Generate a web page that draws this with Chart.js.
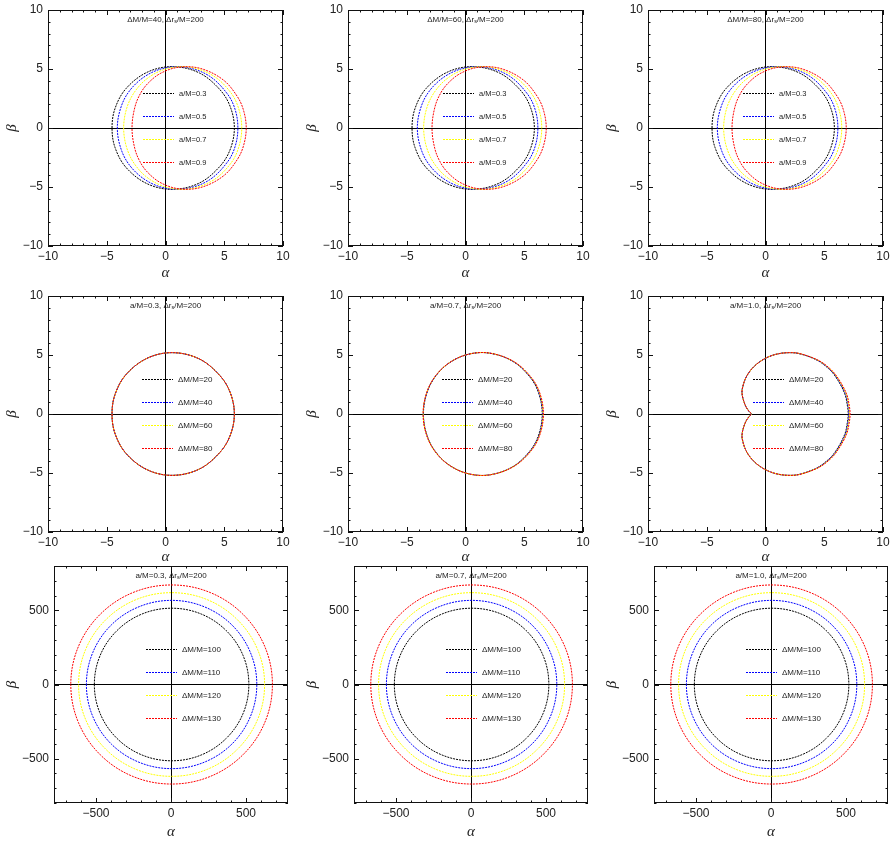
<!DOCTYPE html>
<html>
<head>
<meta charset="utf-8">
<script src="https://cdn.jsdelivr.net/npm/chart.js@4.4.1/dist/chart.umd.min.js"></script>
<style>
html,body{margin:0;padding:0;background:#fff;}
#wrap{position:relative;width:896px;height:842px;overflow:hidden;background:#fff;}
</style>
</head>
<body>
<div id="wrap"></div>
<script>
// series colours, in legend order
const colors = ['#000000', '#0000ff', '#ffff00', '#ff0000'];

// legend texts
const spinNames = ['a/M=0.3', 'a/M=0.5', 'a/M=0.7', 'a/M=0.9'];
const dmNamesSmall = ['\u0394M/M=20', '\u0394M/M=40', '\u0394M/M=60', '\u0394M/M=80'];
const dmNamesLarge = ['\u0394M/M=100', '\u0394M/M=110', '\u0394M/M=120', '\u0394M/M=130'];

// panel titles (text before subscript s)
const topTitles = ['\u0394M/M=40, \u0394r', '\u0394M/M=60, \u0394r', '\u0394M/M=80, \u0394r'];
const spinTitles = ['a/M=0.3, \u0394r', 'a/M=0.7, \u0394r', 'a/M=1.0, \u0394r'];

// tick labels
const smallTicks = [-10, -5, 0, 5, 10];
const bigTicks = [-500, 0, 500];

// shadow contours, upper half read left to right (lower half is the mirror)
// top row, dM/M = 40..80 look the same
const alphaA03 = [-4.55, -4.30, -3.37, -1.57, 0.60, 2.89, 4.64, 5.52, 5.86];
const betaA03  = [0, 1.64, 3.33, 4.72, 5.20, 4.66, 3.24, 1.78, 0];
const alphaA05 = [-4.10, -3.72, -2.85, -1.48, 0.14, 1.89, 3.78, 5.28, 5.93, 6.16];
const betaA05  = [0, 1.96, 3.41, 4.54, 5.12, 5.12, 4.37, 2.87, 1.55, 0];
const alphaA07 = [-3.56, -3.27, -2.52, -1.34, 0.23, 2.02, 4.04, 5.51, 6.21, 6.49];
const betaA07  = [0, 1.77, 3.21, 4.35, 5.06, 5.16, 4.44, 3.06, 1.70, 0];
const alphaA09 = [-2.85, -2.61, -2.13, -1.47, -0.39, 1.14, 3.00, 4.92, 6.13, 6.66, 6.87];
const betaA09  = [0, 1.75, 2.93, 3.81, 4.65, 5.15, 5.04, 4.07, 2.64, 1.43, 0];

// middle row, a/M = 0.7, dM/M = 20, 40, 60, 80 (beta from betaA07)
const alpha07dm20 = [-3.58, -3.29, -2.54, -1.35, 0.23, 2.03, 4.06, 5.54, 6.25, 6.53];
const alpha07dm40 = [-3.59, -3.30, -2.55, -1.36, 0.23, 2.04, 4.08, 5.57, 6.29, 6.57];
const alpha07dm60 = [-3.60, -3.31, -2.56, -1.36, 0.23, 2.05, 4.10, 5.60, 6.32, 6.60];
const alpha07dm80 = [-3.61, -3.32, -2.57, -1.37, 0.24, 2.06, 4.12, 5.63, 6.35, 6.63];

// middle row, a/M = 1.0, starts at the cusp on the left
const betaA10 = [0, 0.22, 0.65, 1.25, 1.80, 2.20, 2.90, 3.47, 4.00, 4.46, 4.84, 5.10, 5.20, 5.12, 4.63, 4.13, 3.31, 1.76, 0.64, 0];
const alpha10dm20 = [-1.17, -1.40, -1.68, -1.90, -2.00, -1.96, -1.75, -1.44, -1.00, -0.44, 0.25, 1.06, 2.00, 2.84, 4.25, 5.03, 5.86, 6.73, 6.98, 7.04];
const alpha10dm40 = [-1.17, -1.40, -1.68, -1.90, -2.00, -1.96, -1.75, -1.44, -1.00, -0.44, 0.25, 1.07, 2.02, 2.87, 4.28, 5.07, 5.90, 6.78, 7.03, 7.09];
const alpha10dm60 = [-1.17, -1.40, -1.68, -1.90, -2.00, -1.96, -1.75, -1.44, -1.00, -0.44, 0.25, 1.08, 2.04, 2.90, 4.31, 5.11, 5.94, 6.83, 7.08, 7.14];
const alpha10dm80 = [-1.17, -1.40, -1.68, -1.90, -2.00, -1.96, -1.75, -1.44, -1.00, -0.44, 0.25, 1.09, 2.06, 2.93, 4.34, 5.15, 5.98, 6.88, 7.14, 7.20];

// bottom row, dM/M = 100..130 (same in all three panels)
const alpha100 = [-511, -472, -360, -193, 4, 201, 368, 480, 519];
const beta100  = [0, 197, 364, 476, 515, 476, 364, 197, 0];
const alpha110 = [-564, -521, -398, -213, 4, 221, 406, 529, 572];
const beta110  = [0, 217, 402, 525, 568, 525, 402, 217, 0];
const alpha120 = [-616, -569, -434, -233, 4, 241, 442, 577, 624];
const beta120  = [0, 237, 438, 573, 620, 573, 438, 237, 0];
const alpha130 = [-668, -617, -471, -253, 4, 261, 479, 625, 676];
const beta130  = [0, 257, 475, 621, 672, 621, 475, 257, 0];

// axis ranges
const smallRange = [-10, 10];
const bigRangeX = [-780, 780];
const bigRangeY = [-800, 800];

// ---- layout ----
const rowGeom = [
  {top: 0,   h: 282, padTop: 10, xH: 36, yW: 48, padR: 17, alphaPad: 0},
  {top: 282, h: 284, padTop: 14, xH: 34, yW: 48, padR: 17, alphaPad: 0},
  {top: 560, h: 282, padTop: 6,  xH: 39, yW: 54, padR: 12, alphaPad: 1}
];
const legendRows = [83, 106, 129, 152];
const dash = [2, 1];
const sansFont = "'Liberation Sans', Arial, Helvetica, sans-serif";
const serifFont = "'Liberation Serif', 'DejaVu Serif', serif";

Chart.defaults.font.family = sansFont;

// open path: upper half then lower half back (used for the cusped a=1 shadow)
function openPath(alpha, beta){
  let pts = alpha.map((a, i) => ({x: a, y: beta[i]}));
  for (let i = alpha.length - 2; i >= 0; i--) pts.push({x: alpha[i], y: -beta[i]});
  return pts;
}

// closed smooth loop: one extra point at each end, those end segments are hidden
function loopPath(alpha, beta){
  let L = alpha.map((a, i) => ({x: a, y: beta[i]}));
  for (let i = alpha.length - 2; i >= 1; i--) L.push({x: alpha[i], y: -beta[i]});
  return [L[L.length - 1]].concat(L, [L[0], L[1]]);
}

function fmt(v){
  return v < 0 ? '\u2212' + Math.abs(v) : String(v);
}

// frame, inward ticks, title and legend
const decoPlugin = {
  id: 'deco',
  afterDraw(chart, args, o){
    const {ctx, chartArea: {left, right, top, bottom}, scales: {x, y}} = chart;
    ctx.save();
    ctx.strokeStyle = '#111';
    ctx.lineWidth = 1;
    ctx.setLineDash([]);
    ctx.strokeRect(left + 0.5, top + 0.5, right - left - 1, bottom - top - 1);

    ctx.beginPath();
    const tickX = (v, len) => {
      const p = Math.round(x.getPixelForValue(v)) + 0.5;
      ctx.moveTo(p, bottom); ctx.lineTo(p, bottom - len);
      ctx.moveTo(p, top); ctx.lineTo(p, top + len);
    };
    const tickY = (v, len) => {
      const p = Math.round(y.getPixelForValue(v)) + 0.5;
      ctx.moveTo(left, p); ctx.lineTo(left + len, p);
      ctx.moveTo(right, p); ctx.lineTo(right - len, p);
    };
    x.ticks.forEach(t => tickX(t.value, 5));
    y.ticks.forEach(t => tickY(t.value, 5));
    for (let v = Math.ceil(x.min / o.minor) * o.minor; v <= x.max; v += o.minor) {
      if (v % o.major !== 0) tickX(v, 2.5);
    }
    for (let v = Math.ceil(y.min / o.minor) * o.minor; v <= y.max; v += o.minor) {
      if (v % o.major !== 0) tickY(v, 2.5);
    }
    ctx.stroke();

    // title with subscript s
    const cx = (left + right) / 2;
    const ty = top + 9.5;
    ctx.fillStyle = '#222';
    ctx.textBaseline = 'middle';
    ctx.textAlign = 'left';
    const mainF = '8px ' + sansFont, subF = '5.5px ' + sansFont;
    ctx.font = mainF;
    const w1 = ctx.measureText(o.title).width;
    const w3 = ctx.measureText('/M=200').width;
    ctx.font = subF;
    const w2 = ctx.measureText('s').width;
    let sx = cx - (w1 + w2 + w3) / 2;
    ctx.font = mainF; ctx.fillText(o.title, sx, ty);
    ctx.font = subF; ctx.fillText('s', sx + w1, ty + 2);
    ctx.font = mainF; ctx.fillText('/M=200', sx + w1 + w2, ty);

    // legend
    o.names.forEach((n, i) => {
      const ly = Math.round(top + legendRows[i]) + 0.5;
      const lx = left + o.legendX;
      ctx.setLineDash(dash);
      ctx.strokeStyle = colors[i];
      ctx.beginPath();
      ctx.moveTo(lx, ly); ctx.lineTo(lx + 31, ly);
      ctx.stroke();
      ctx.setLineDash([]);
      ctx.fillStyle = '#222';
      ctx.font = o.nameSize + 'px ' + sansFont;
      ctx.fillText(n, lx + 36, ly);
    });
    ctx.restore();
  }
};

const topCurves = [[alphaA03, betaA03], [alphaA05, betaA05], [alphaA07, betaA07], [alphaA09, betaA09]];
const bottomCurves = [[alpha100, beta100], [alpha110, beta110], [alpha120, beta120], [alpha130, beta130]];

const panels = [
  {row: 0, col: 0, title: topTitles[0], names: spinNames, legendX: 95, nameSize: 7.5, curves: topCurves},
  {row: 0, col: 1, title: topTitles[1], names: spinNames, legendX: 95, nameSize: 7.5, curves: topCurves},
  {row: 0, col: 2, title: topTitles[2], names: spinNames, legendX: 95, nameSize: 7.5, curves: topCurves},
  {row: 1, col: 0, title: spinTitles[0], names: dmNamesSmall, legendX: 94, nameSize: 8,
   curves: [[alphaA03, betaA03], [alphaA03, betaA03], [alphaA03, betaA03], [alphaA03, betaA03]]},
  {row: 1, col: 1, title: spinTitles[1], names: dmNamesSmall, legendX: 94, nameSize: 8,
   curves: [[alpha07dm20, betaA07], [alpha07dm40, betaA07], [alpha07dm60, betaA07], [alpha07dm80, betaA07]]},
  {row: 1, col: 2, title: spinTitles[2], names: dmNamesSmall, legendX: 105, nameSize: 8, cusp: true,
   curves: [[alpha10dm20, betaA10], [alpha10dm40, betaA10], [alpha10dm60, betaA10], [alpha10dm80, betaA10]]},
  {row: 2, col: 0, title: spinTitles[0], names: dmNamesLarge, legendX: 92, nameSize: 8, big: true, curves: bottomCurves},
  {row: 2, col: 1, title: spinTitles[1], names: dmNamesLarge, legendX: 92, nameSize: 8, big: true, curves: bottomCurves},
  {row: 2, col: 2, title: spinTitles[2], names: dmNamesLarge, legendX: 92, nameSize: 8, big: true, curves: bottomCurves}
];

const wrap = document.getElementById('wrap');

function axis(range, tickVals, title, isX, g){
  const opts = {
    type: 'linear',
    min: range[0],
    max: range[1],
    afterBuildTicks: s => { s.ticks = tickVals.map(v => ({value: v})); },
    ticks: {autoSkip: false, maxRotation: 0,
            padding: isX ? 3 : 5, color: '#222', font: {size: 12}, callback: fmt},
    grid: {drawTicks: false, lineWidth: 1,
           color: c => (c.tick && c.tick.value === 0) ? '#000' : 'rgba(0,0,0,0)'},
    border: {display: false},
    title: {display: true, text: title, color: '#222',
            font: {family: serifFont, style: 'italic', size: 15},
            padding: isX ? {top: 0, bottom: g.alphaPad} : {top: 3, bottom: 0}}
  };
  if (isX) {
    opts.afterFit = s => { s.height = g.xH; s.paddingLeft = 0; s.paddingRight = 0; };
  } else {
    opts.afterFit = s => { s.width = g.yW; s.paddingTop = 0; s.paddingBottom = 0; };
  }
  return opts;
}

panels.forEach(p => {
  const g = rowGeom[p.row];
  const canvas = document.createElement('canvas');
  canvas.width = 300;
  canvas.height = g.h;
  canvas.style.cssText = 'position:absolute;left:' + (p.col * 300) + 'px;top:' + g.top + 'px;width:300px;height:' + g.h + 'px';
  wrap.appendChild(canvas);

  const datasets = p.curves.map((c, i) => {
    const data = p.cusp ? openPath(c[0], c[1]) : loopPath(c[0], c[1]);
    const last = data.length - 2;
    const ds = {
      label: p.names[i],
      data: data,
      order: 3 - i,
      showLine: true,
      pointRadius: 0,
      borderWidth: 1,
      borderColor: colors[i],
      borderDash: dash,
      borderDashOffset: i * 0.75,
      tension: 0.35,
      fill: false
    };
    if (!p.cusp) {
      ds.segment = {
        borderColor: s => (s.p0DataIndex === 0 || s.p0DataIndex === last) ? 'rgba(0,0,0,0)' : undefined
      };
    }
    return ds;
  });

  new Chart(canvas, {
    type: 'scatter',
    data: {datasets},
    options: {
      responsive: false,
      animation: false,
      devicePixelRatio: 1,
      layout: {padding: {top: g.padTop, right: g.padR, left: 0, bottom: 0}},
      scales: {
        x: axis(p.big ? bigRangeX : smallRange, p.big ? bigTicks : smallTicks, '\u03b1', true, g),
        y: axis(p.big ? bigRangeY : smallRange, p.big ? bigTicks : smallTicks, '\u03b2', false, g)
      },
      plugins: {
        legend: {display: false},
        tooltip: {enabled: false},
        deco: {title: p.title, names: p.names, legendX: p.legendX, nameSize: p.nameSize,
               minor: p.big ? 100 : 1, major: p.big ? 500 : 5}
      }
    },
    plugins: [decoPlugin]
  });
});
</script>
</body>
</html>
